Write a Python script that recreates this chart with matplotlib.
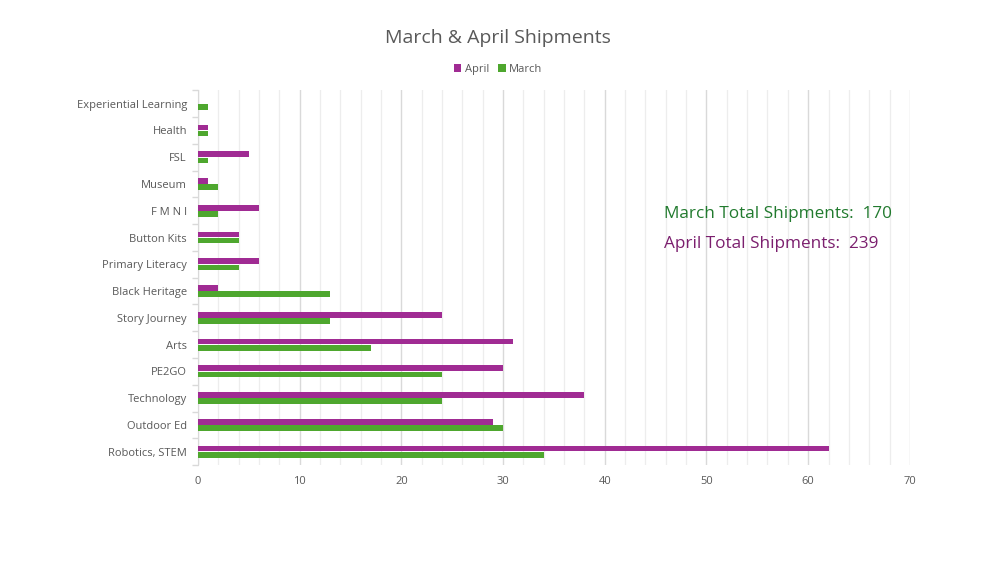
import numpy as np
import matplotlib
matplotlib.use("Agg")
import matplotlib.pyplot as plt
from matplotlib.ticker import MultipleLocator

categories = ["Experiential Learning", "Health", "FSL", "Museum", "F M N I",
              "Button Kits", "Primary Literacy", "Black Heritage", "Story Journey",
              "Arts", "PE2GO", "Technology", "Outdoor Ed", "Robotics, STEM"]
april = [0, 1, 5, 1, 6, 4, 6, 2, 24, 31, 30, 38, 29, 62]
march = [1, 1, 1, 2, 2, 4, 4, 13, 13, 17, 24, 24, 30, 34]
x_ticks = [0, 10, 20, 30, 40, 50, 60, 70]

purple = "#A02B93"
green = "#4EA72E"
grey_text = "#595959"

plt.rcParams["font.family"] = ["Open Sans", "DejaVu Sans"]

fig = plt.figure(figsize=(9.97, 5.61), dpi=100)
ax = fig.add_axes([0.1986, 0.171, 0.714, 0.668])

y = np.arange(len(categories))
bar_h = 0.21
ax.barh(y - 0.115, april, height=bar_h, color=purple, label="April", zorder=3)
ax.barh(y + 0.115, march, height=bar_h, color=green, label="March", zorder=3)

ax.set_ylim(len(categories) - 0.5, -0.5)
ax.set_xlim(0, 70)
ax.set_xticks(x_ticks)
ax.xaxis.set_minor_locator(MultipleLocator(2))
ax.grid(axis="x", which="major", color="#D9D9D9", linewidth=1, zorder=0)
ax.grid(axis="x", which="minor", color="#EDEDED", linewidth=0.9, zorder=0)
ax.tick_params(axis="x", which="both", length=0, colors=grey_text, labelsize=8, pad=8)

ax.set_yticks(y)
ax.set_yticklabels(categories)
ax.set_yticks(np.arange(-0.5, len(categories), 1), minor=True)
ax.tick_params(axis="y", which="major", length=0, colors=grey_text, labelsize=8, pad=8)
ax.tick_params(axis="y", which="minor", length=4, color="#D9D9D9", width=1)

for side in ["top", "right", "bottom"]:
    ax.spines[side].set_visible(False)
ax.spines["left"].set_color("#D9D9D9")

fig.text(0.4995, 0.933, "March & April Shipments", ha="center", va="center",
         fontsize=14, color=grey_text)
ax.legend(loc="center", bbox_to_anchor=(0.4995, 0.877), bbox_transform=fig.transFigure,
          ncol=2, frameon=False, fontsize=8, handlelength=0.7, handleheight=0.7,
          handletextpad=0.3, columnspacing=0.8, labelcolor=grey_text)

fig.text(0.666, 0.618, "March Total Shipments:  170", ha="left", va="center",
         fontsize=12.3, color="#217A2E")
fig.text(0.666, 0.565, "April Total Shipments:  239", ha="left", va="center",
         fontsize=12.3, color="#7B1F6E")

fig.savefig("out.png", dpi=100)
